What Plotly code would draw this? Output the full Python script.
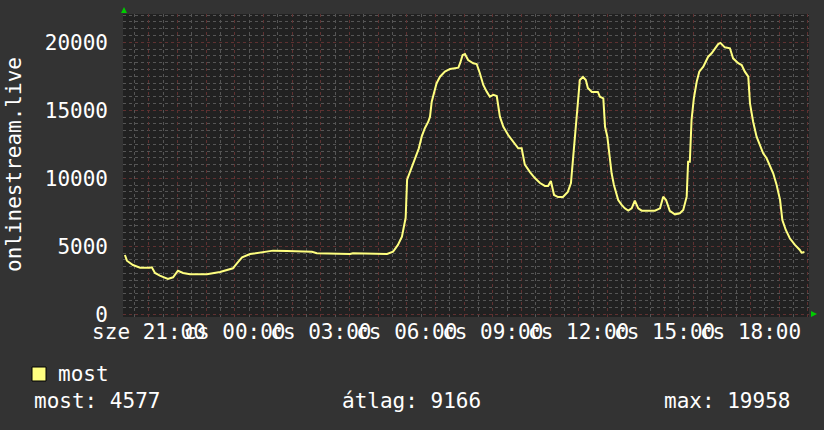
"""
onlinestream.live - napi nézőszám (RRD stílusú grafikon)
"""

import plotly.graph_objects as go

# --- adatok: óra eltolás sze 21:00-tól, nézők száma ---
hours = [
    -0.84, -0.77, -0.56, -0.31, 0.03, 0.10, 0.21, 0.38, 0.66, 0.84,
    1.01, 1.19, 1.43, 2.02, 2.48, 2.72, 2.93, 3.07, 3.25, 3.53,
    3.98, 4.33, 4.82, 5.69, 5.86, 7.02, 7.12, 7.96, 8.31, 8.52,
    8.69, 8.83, 8.87, 8.96, 9.01, 9.11, 9.25, 9.42, 9.52, 9.63,
    9.75, 9.81, 9.87, 9.95, 10.04, 10.16, 10.33, 10.51, 10.80, 10.86,
    10.95, 11.03, 11.14, 11.32, 11.44, 11.55, 11.67, 11.79, 11.90, 12.02,
    12.14, 12.25, 12.37, 12.54, 12.72, 12.89, 13.01, 13.12, 13.30, 13.47,
    13.65, 13.82, 13.93, 14.03, 14.14, 14.28, 14.45, 14.62, 14.73, 14.80,
    14.87, 14.97, 15.04, 15.15, 15.25, 15.32, 15.46, 15.67, 15.74, 15.86,
    15.92, 16.00, 16.07, 16.15, 16.23, 16.32, 16.38, 16.50, 16.61, 16.73,
    16.85, 16.96, 17.08, 17.20, 17.66, 17.84, 17.95, 18.05, 18.18, 18.36,
    18.53, 18.65, 18.77, 18.82, 18.88, 18.94, 19.02, 19.12, 19.21, 19.35,
    19.44, 19.52, 19.64, 19.76, 19.87, 19.95, 20.10, 20.28, 20.39, 20.57,
    20.69, 20.80, 20.92, 20.98, 21.09, 21.21, 21.33, 21.44, 21.56, 21.68,
    21.79, 21.91, 22.03, 22.11, 22.23, 22.37, 22.55, 22.72, 22.78, 22.88,
]
viewers = [
    4360, 3940, 3620, 3430, 3430, 3450, 3040, 2840, 2600, 2720,
    3200, 3040, 2940, 2940, 3110, 3260, 3380, 3750, 4190, 4430,
    4580, 4680, 4650, 4600, 4490, 4430, 4490, 4430, 4430, 4600,
    5100, 5700, 6200, 7100, 9900, 10460, 11350, 12200, 13060, 13680,
    14160, 14530, 15630, 16370, 16990, 17470, 17840, 18040, 18130, 18460,
    19070, 19140, 18700, 18460, 18400, 17720, 16860, 16370, 16000, 16130,
    16050, 14530, 13790, 13180, 12690, 12200, 12200, 11000, 10460, 10020,
    9650, 9440, 9440, 9800, 8770, 8620, 8620, 9000, 9650, 11350,
    13180, 15750, 17230, 17450, 17230, 16640, 16350, 16350, 16000, 15880,
    13790, 13060, 11840, 10370, 9510, 8900, 8400, 8040, 7790, 7620,
    7790, 8350, 7790, 7620, 7620, 7790, 8650, 8400, 7600, 7350,
    7430, 7670, 8650, 11220, 11220, 14290, 15880, 17100, 17840, 18210,
    18570, 18940, 19190, 19560, 19870, 19958, 19630, 19560, 18820, 18460,
    18330, 17840, 17470, 15510, 14160, 13060, 12450, 11840, 11470, 10850,
    10370, 9510, 8400, 6930, 6200, 5590, 5100, 4730, 4530, 4577,
]

tick_hours = [0, 3, 6, 9, 12, 15, 18, 21]
tick_labels = ["sze 21:00", "cs 00:00", "cs 03:00", "cs 06:00",
               "cs 09:00", "cs 12:00", "cs 15:00", "cs 18:00"]

legend_name = "most"
stat_labels = ["most: 4577", "átlag: 9166", "max: 19958"]
y_title = "onlinestream.live"

# --- stílus ---
W, H = 824, 430
L, R, T, B = 123, 15, 14, 113
FONT = "DejaVu Sans Mono"
LINE = "#ffff80"
BACK = "#333333"
CANVAS = "#212121"
GRID = "#555555"
MGRID = "#5f3131"


def px_x(px):
    return (px - L) / (W - L - R)


def px_y(py):
    return (H - B - py) / (H - T - B)


fig = go.Figure()
fig.add_trace(go.Scatter(
    x=hours, y=viewers, mode="lines", name=legend_name,
    line=dict(color=LINE, width=2), showlegend=False,
))

all_hours = list(range(0, 24))
all_text = [tick_labels[tick_hours.index(h)] if h in tick_hours else "" for h in all_hours]

fig.update_xaxes(
    range=[-0.907, 23.04],
    tickmode="array", tickvals=all_hours, ticktext=all_text, tickangle=0,
    showgrid=True, gridcolor=MGRID, griddash="dot", gridwidth=1,
    minor=dict(tickmode="linear", tick0=0, dtick=0.5, showgrid=True,
               gridcolor=GRID, griddash="dot", gridwidth=1),
    ticks="", zeroline=False, showline=False, ticklabelstandoff=0,
    tickfont=dict(family=FONT, size=21, color="white"),
    fixedrange=True,
)
fig.update_yaxes(
    range=[-200, 22080],
    tickmode="linear", tick0=0, dtick=5000, tickformat="d",
    showgrid=True, gridcolor=MGRID, griddash="dot", gridwidth=1,
    minor=dict(tickmode="linear", tick0=0, dtick=500, showgrid=True,
               gridcolor=GRID, griddash="dot", gridwidth=1),
    ticks="", zeroline=False, showline=False, ticklabelstandoff=14,
    tickfont=dict(family=FONT, size=21, color="white"),
    fixedrange=True,
)

shapes = [
    # tengely nyilak
    dict(type="path", xref="paper", yref="paper", line=dict(width=0),
         fillcolor="#00cc00",
         path=f"M {px_x(121)},{px_y(13)} L {px_x(127)},{px_y(13)} L {px_x(124)},{px_y(7)} Z"),
    dict(type="path", xref="paper", yref="paper", line=dict(width=0),
         fillcolor="#00cc00",
         path=f"M {px_x(811)},{px_y(311)} L {px_x(811)},{px_y(317)} L {px_x(817)},{px_y(314)} Z"),
    # jelmagyarázat négyzet
    dict(type="rect", xref="paper", yref="paper",
         x0=px_x(32), x1=px_x(46), y0=px_y(381), y1=px_y(367),
         fillcolor=LINE, line=dict(color="black", width=1)),
]

annotations = [
    dict(text=y_title, x=px_x(14), y=px_y(165), textangle=-90),
    dict(text=legend_name, x=px_x(56), y=px_y(374), xanchor="left"),
    dict(text=stat_labels[0], x=px_x(32), y=px_y(401), xanchor="left"),
    dict(text=stat_labels[1], x=px_x(340), y=px_y(401), xanchor="left"),
    dict(text=stat_labels[2], x=px_x(662), y=px_y(401), xanchor="left"),
]
for a in annotations:
    a.update(xref="paper", yref="paper", showarrow=False,
             font=dict(family=FONT, size=21, color="white"))
    a.setdefault("xanchor", "center")
    a["yanchor"] = "middle"

fig.update_layout(
    width=W, height=H,
    margin=dict(l=L, r=R, t=T, b=B),
    paper_bgcolor=BACK, plot_bgcolor=CANVAS,
    shapes=shapes, annotations=annotations,
    showlegend=False,
)

fig.write_html(
    "out.html",
    config={"displayModeBar": False},
    post_script="document.body.style.margin='0';document.body.style.background='#333333';",
)
